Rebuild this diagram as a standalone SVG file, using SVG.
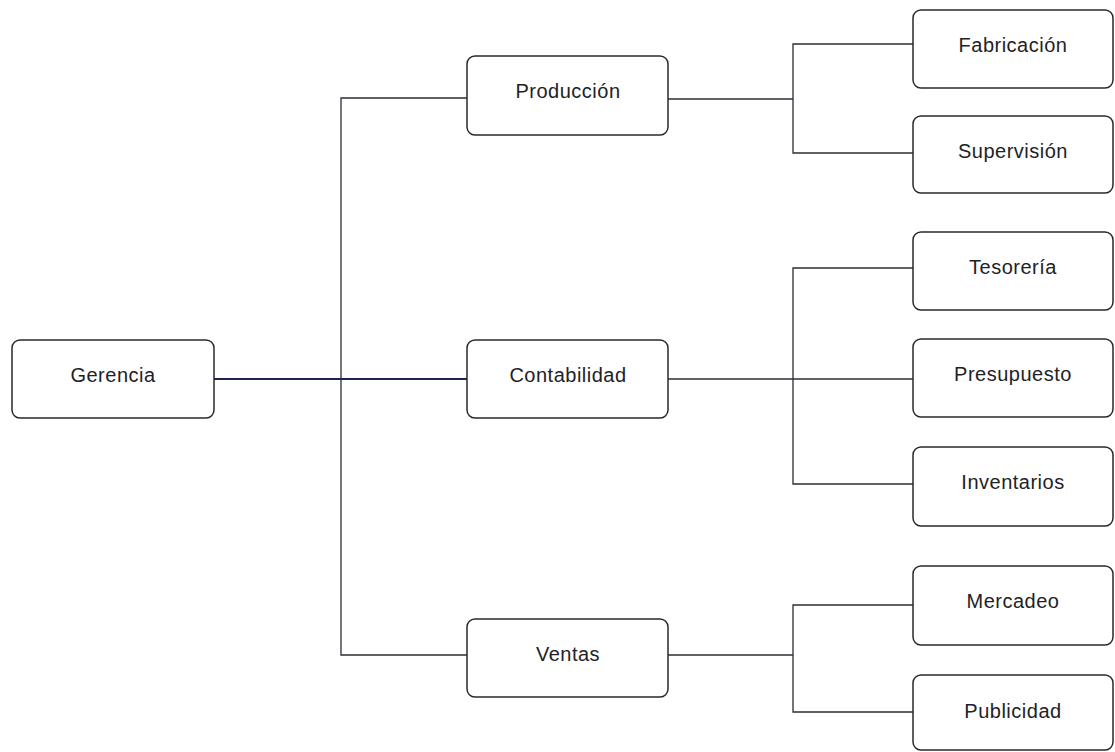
<svg xmlns="http://www.w3.org/2000/svg" width="1115" height="752" viewBox="0 0 1115 752">
  <style>
    .box { fill: #ffffff; stroke: #2a2a2e; stroke-width: 1.5; }
    .lbl { font-family: "Liberation Sans", Arial, sans-serif; font-size: 20px; fill: #222226; text-anchor: middle; letter-spacing: 0.5px; }
    .wire { fill: none; stroke: #2c2c36; stroke-width: 1.3; }
    .main { fill: none; stroke: #1c2450; stroke-width: 2.2; }
  </style>
  <rect width="1115" height="752" fill="#ffffff"/>

  <!-- connectors -->
  <g id="connectors">
    <path class="main" d="M214 379 H467"/>
    <path class="wire" d="M467 98 H341 V655 H467"/>
    <path class="wire" d="M668 99 H793"/>
    <path class="wire" d="M913 44 H793 V153 H913"/>
    <path class="wire" d="M668 379 H913"/>
    <path class="wire" d="M913 268 H793 V484 H913"/>
    <path class="wire" d="M668 655 H793"/>
    <path class="wire" d="M913 605 H793 V712 H913"/>
  </g>

  <g id="gerencia">
    <rect class="box" x="12" y="340" width="202" height="78" rx="8"/>
    <text class="lbl" x="113" y="382">Gerencia</text>
  </g>
  <g id="produccion">
    <rect class="box" x="467" y="56" width="201" height="79" rx="8"/>
    <text class="lbl" x="568" y="98">Producción</text>
  </g>
  <g id="contabilidad">
    <rect class="box" x="467" y="340" width="201" height="78" rx="8"/>
    <text class="lbl" x="568" y="382">Contabilidad</text>
  </g>
  <g id="ventas">
    <rect class="box" x="467" y="619" width="201" height="78" rx="8"/>
    <text class="lbl" x="568" y="661">Ventas</text>
  </g>
  <g id="fabricacion">
    <rect class="box" x="913" y="10" width="200" height="78" rx="8"/>
    <text class="lbl" x="1013" y="52">Fabricación</text>
  </g>
  <g id="supervision">
    <rect class="box" x="913" y="116" width="200" height="77" rx="8"/>
    <text class="lbl" x="1013" y="158">Supervisión</text>
  </g>
  <g id="tesoreria">
    <rect class="box" x="913" y="232" width="200" height="78" rx="8"/>
    <text class="lbl" x="1013" y="274">Tesorería</text>
  </g>
  <g id="presupuesto">
    <rect class="box" x="913" y="339" width="200" height="78" rx="8"/>
    <text class="lbl" x="1013" y="381">Presupuesto</text>
  </g>
  <g id="inventarios">
    <rect class="box" x="913" y="447" width="200" height="79" rx="8"/>
    <text class="lbl" x="1013" y="489">Inventarios</text>
  </g>
  <g id="mercadeo">
    <rect class="box" x="913" y="566" width="200" height="79" rx="8"/>
    <text class="lbl" x="1013" y="608">Mercadeo</text>
  </g>
  <g id="publicidad">
    <rect class="box" x="913" y="675" width="200" height="75" rx="8"/>
    <text class="lbl" x="1013" y="718">Publicidad</text>
  </g>
</svg>
